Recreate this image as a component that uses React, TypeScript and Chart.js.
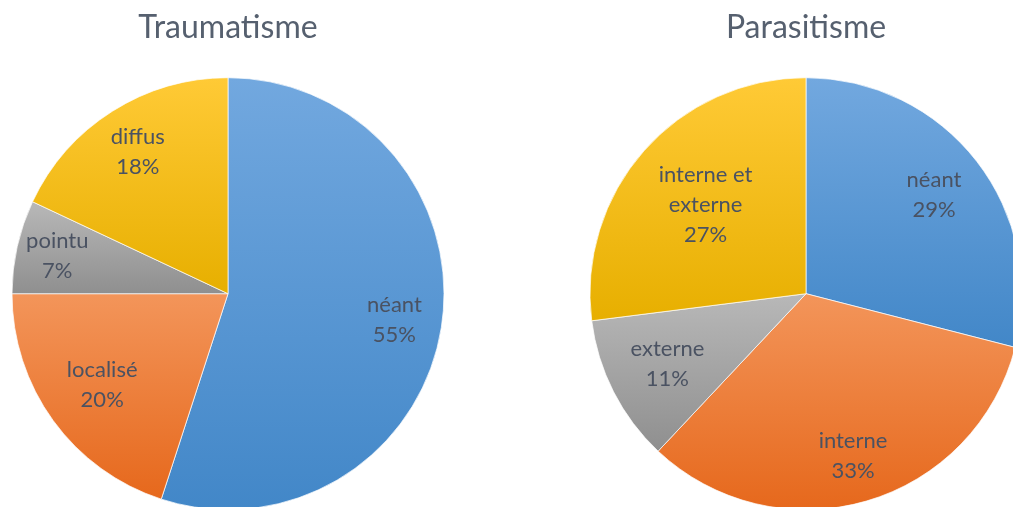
import React, { useEffect, useRef } from "react";
import { Chart, registerables } from "chart.js";

Chart.register(...registerables);

const traumaCategories = ["néant", "localisé", "pointu", "diffus"];
const traumaValues = [55, 20, 7, 18];
const parasiteCategories = ["néant", "interne", "externe", "interne et externe"];
const parasiteValues = [29, 33, 11, 27];
const chartTitles = ["Traumatisme", "Parasitisme"];

const FONT = "Lato, 'Open Sans', sans-serif";
const RADIUS = 216;

// top colour, bottom colour for each slice
const gradientStops: [string, string][] = [
  ["#72a8df", "#4287c8"],
  ["#f3955a", "#e6681c"],
  ["#b8b8b8", "#8f8f8f"],
  ["#ffca36", "#e7af00"],
];

function sliceYBounds(cy: number, r: number, a0: number, a1: number) {
  let minY = Math.min(cy, cy + r * Math.sin(a0), cy + r * Math.sin(a1));
  let maxY = Math.max(cy, cy + r * Math.sin(a0), cy + r * Math.sin(a1));
  const has = (t: number) => {
    for (let k = -2; k <= 2; k++) {
      const v = t + k * 2 * Math.PI;
      if (v >= a0 && v <= a1) return true;
    }
    return false;
  };
  if (has(-Math.PI / 2)) minY = cy - r;
  if (has(Math.PI / 2)) maxY = cy + r;
  return [minY, maxY];
}

function makeGradient(ctx: any) {
  const chart = ctx.chart;
  const area = chart.chartArea;
  const i = ctx.dataIndex;
  const stops = gradientStops[i % gradientStops.length];
  if (!area) return stops[0];
  const data: number[] = chart.data.datasets[ctx.datasetIndex].data as number[];
  const total = data.reduce((s, v) => s + v, 0);
  let before = 0;
  for (let k = 0; k < i; k++) before += data[k];
  const a0 = -Math.PI / 2 + (before / total) * 2 * Math.PI;
  const a1 = a0 + (data[i] / total) * 2 * Math.PI;
  const cy = (area.top + area.bottom) / 2;
  const [y0, y1] = sliceYBounds(cy, RADIUS, a0, a1);
  const g = chart.ctx.createLinearGradient(0, y0, 0, y1);
  g.addColorStop(0, stops[0]);
  g.addColorStop(1, stops[1]);
  return g;
}

const sliceLabels = {
  id: "sliceLabels",
  afterDatasetsDraw(chart: any, _args: any, opts: any) {
    const ctx = chart.ctx;
    const meta = chart.getDatasetMeta(0);
    const labels = chart.data.labels as string[];
    const data = chart.data.datasets[0].data as number[];
    const total = data.reduce((s, v) => s + v, 0);
    ctx.save();
    ctx.font = `${opts.fontSize}px ${FONT}`;
    ctx.fillStyle = opts.color;
    ctx.textAlign = "center";
    ctx.textBaseline = "middle";
    meta.data.forEach((arc: any, i: number) => {
      const { x, y, startAngle, endAngle, outerRadius } = arc.getProps(
        ["x", "y", "startAngle", "endAngle", "outerRadius"],
        true
      );
      const mid = (startAngle + endAngle) / 2;
      const f = opts.radiusFractions[i];
      const px = x + Math.cos(mid) * outerRadius * f;
      const py = y + Math.sin(mid) * outerRadius * f;
      const words = labels[i].split(" ");
      const lines: string[] = [];
      let cur = "";
      words.forEach((w) => {
        const test = cur ? cur + " " + w : w;
        if (cur && ctx.measureText(test).width > opts.maxWidth) {
          lines.push(cur);
          cur = w;
        } else cur = test;
      });
      if (cur) lines.push(cur);
      lines.push(Math.round((data[i] / total) * 100) + "%");
      const lh = opts.lineHeight;
      const startY = py - ((lines.length - 1) * lh) / 2;
      lines.forEach((ln, k) => ctx.fillText(ln, px, startY + k * lh));
    });
    ctx.restore();
  },
};

function PieChart(props: {
  labels: string[];
  values: number[];
  title: string;
  fractions: number[];
}) {
  const ref = useRef<HTMLCanvasElement>(null);
  useEffect(() => {
    if (!ref.current) return;
    const chart = new Chart(ref.current, {
      type: "pie",
      data: {
        labels: props.labels,
        datasets: [
          {
            data: props.values,
            backgroundColor: makeGradient as any,
            borderColor: "rgba(255,255,255,0.7)",
            borderWidth: 1,
          },
        ],
      },
      options: {
        responsive: false,
        animation: false,
        radius: RADIUS,
        layout: { padding: 0 },
        plugins: {
          legend: { display: false },
          tooltip: { enabled: false },
          title: {
            display: true,
            text: props.title,
            color: "#56606f",
            font: { family: FONT, size: 32, weight: "normal" as any, lineHeight: 1.2 },
            padding: { top: 8, bottom: 0 },
          },
          sliceLabels: {
            fontSize: 22,
            lineHeight: 30,
            color: "#4a5262",
            maxWidth: 120,
            radiusFractions: props.fractions,
          },
        } as any,
      },
      plugins: [sliceLabels],
    });
    return () => chart.destroy();
  }, []);
  return <canvas ref={ref} width={456} height={541} />;
}

export default function App() {
  return (
    <div
      style={{
        position: "fixed",
        left: 0,
        top: 0,
        width: 1013,
        height: 507,
        overflow: "hidden",
        background: "#ffffff",
      }}
    >
      <div style={{ position: "absolute", left: 0, top: 0 }}>
        <PieChart
          labels={traumaCategories}
          values={traumaValues}
          title={chartTitles[0]}
          fractions={[0.78, 0.72, 0.81, 0.78]}
        />
      </div>
      <div style={{ position: "absolute", left: 578, top: 0 }}>
        <PieChart
          labels={parasiteCategories}
          values={parasiteValues}
          title={chartTitles[1]}
          fractions={[0.75, 0.78, 0.72, 0.62]}
        />
      </div>
    </div>
  );
}
